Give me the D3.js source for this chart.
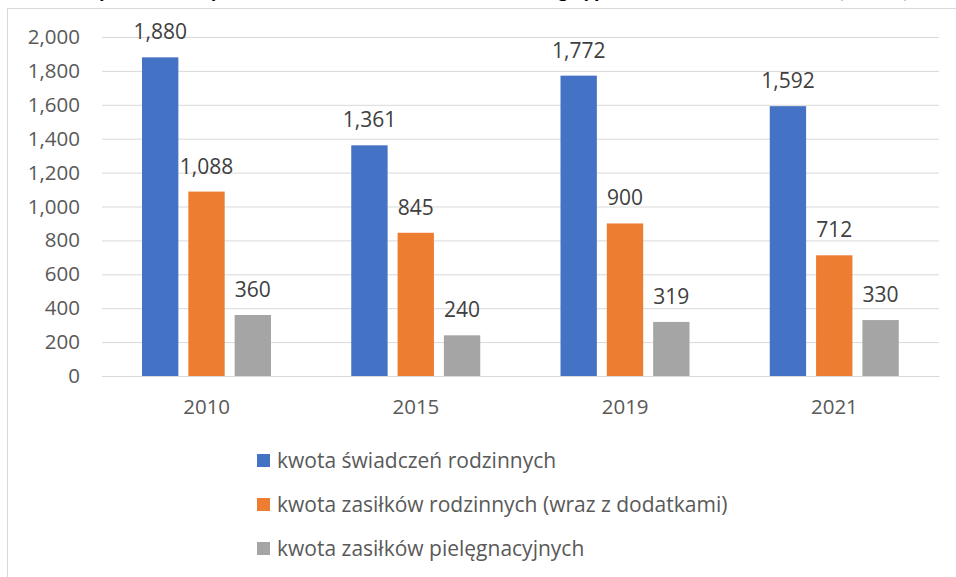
<!DOCTYPE html>
<html>
<head>
<meta charset="utf-8">
<script src="https://cdn.jsdelivr.net/npm/d3@7"></script>
<style>
  body { margin: 0; background: #fff; }
  svg { display: block; font-family: "Open Sans", Lato, sans-serif; }
</style>
</head>
<body>
<div id="chart"></div>
<script>
var years = ["2010", "2015", "2019", "2021"];
var seriesNames = [
    "kwota świadczeń rodzinnych",
    "kwota zasiłków rodzinnych (wraz z dodatkami)",
    "kwota zasiłków pielęgnacyjnych"
];
var seriesColors = ["#4472C4", "#ED7D31", "#A5A5A5"];
var swiadczenia = [1880, 1361, 1772, 1592];
var zasilkiRodzinne = [1088, 845, 900, 712];
var zasilkiPielegnacyjne = [360, 240, 319, 330];
var yTicks = [0, 200, 400, 600, 800, 1000, 1200, 1400, 1600, 1800, 2000];
var title = "Wydatki na wybrane świadczenia rodzinne według typu świadczenia w Polsce (mln zł)";

function drawChart() {
    var width = 956, height = 577;
    var seriesValues = [swiadczenia, zasilkiRodzinne, zasilkiPielegnacyjne];
    var fontFamily = "'Open Sans', Lato, sans-serif";

    var svg = d3.select("#chart")
                .append("svg")
                .attr("width", width)
                .attr("height", height);

    // title, mostly cut off at the top
    svg.append("text")
        .attr("x", width / 2 + 14)
        .attr("y", -3)
        .attr("text-anchor", "middle")
        .attr("font-size", 22)
        .attr("font-weight", "bold")
        .attr("font-family", "Lato, sans-serif")
        .attr("fill", "#000")
        .text(title);

    // chart area border
    svg.append("rect")
        .attr("x", 7.5)
        .attr("y", 8.5)
        .attr("width", 1000)
        .attr("height", 600)
        .attr("fill", "none")
        .attr("stroke", "#D9D9D9");

    var x0 = d3.scaleBand()
               .domain(years)
               .range([102, 939]);

    var x1 = d3.scaleBand()
               .domain(d3.range(seriesNames.length))
               .range([40, 169])
               .paddingInner(0.215);

    var y = d3.scaleLinear()
              .domain([0, 2000])
              .range([376, 37]);

    var yAxis = svg.append("g")
                   .attr("transform", "translate(102,0)")
                   .call(d3.axisLeft(y)
                       .tickValues(yTicks)
                       .tickSize(-837)
                       .tickPadding(22)
                       .tickFormat(d3.format(",")));
    yAxis.select(".domain").remove();
    yAxis.selectAll("line")
        .attr("stroke", "#D9D9D9")
        .attr("stroke-width", 1);
    yAxis.selectAll("text")
        .attr("fill", "#595959")
        .attr("font-size", 20.5)
        .attr("font-family", fontFamily);

    var xAxis = svg.append("g")
                   .attr("transform", "translate(0,376)")
                   .call(d3.axisBottom(x0).tickSize(0).tickPadding(23));
    xAxis.select(".domain")
        .attr("stroke", "#D9D9D9");
    xAxis.selectAll("text")
        .attr("fill", "#595959")
        .attr("font-size", 20.5)
        .attr("font-family", fontFamily);

    var rows = years.map(function(year, i) {
        return {
            year: year,
            values: seriesValues.map(function(vals, s) {
                return {series: s, value: vals[i]};
            })
        };
    });

    var groups = svg.append("g")
                    .selectAll("g")
                    .data(rows)
                    .enter()
                    .append("g")
                    .attr("transform", function(d) {
                        return "translate(" + x0(d.year) + ",0)";
                    });

    groups.selectAll("rect")
        .data(function(d) { return d.values; })
        .enter()
        .append("rect")
        .attr("x", function(d) { return x1(d.series); })
        .attr("y", function(d) { return y(d.value); })
        .attr("width", x1.bandwidth())
        .attr("height", function(d) { return y(0) - y(d.value); })
        .attr("fill", function(d) { return seriesColors[d.series]; });

    groups.selectAll(".label")
        .data(function(d) { return d.values; })
        .enter()
        .append("text")
        .attr("class", "label")
        .attr("x", function(d) { return x1(d.series) + x1.bandwidth() / 2; })
        .attr("y", function(d) { return y(d.value) - 18; })
        .attr("text-anchor", "middle")
        .attr("font-size", 21)
        .attr("fill", "#404040")
        .text(function(d) { return d3.format(",")(d.value); });

    var legend = svg.append("g")
                    .selectAll("g")
                    .data(seriesNames)
                    .enter()
                    .append("g")
                    .attr("transform", function(d, i) {
                        return "translate(257," + (468 + i * 44) + ")";
                    });

    legend.append("rect")
        .attr("x", 0)
        .attr("y", -14)
        .attr("width", 13)
        .attr("height", 13)
        .attr("fill", function(d, i) { return seriesColors[i]; });

    legend.append("text")
        .attr("x", 20)
        .attr("y", 0)
        .attr("font-size", 21)
        .attr("fill", "#595959")
        .text(function(d) { return d; });
}

drawChart();
</script>
</body>
</html>
